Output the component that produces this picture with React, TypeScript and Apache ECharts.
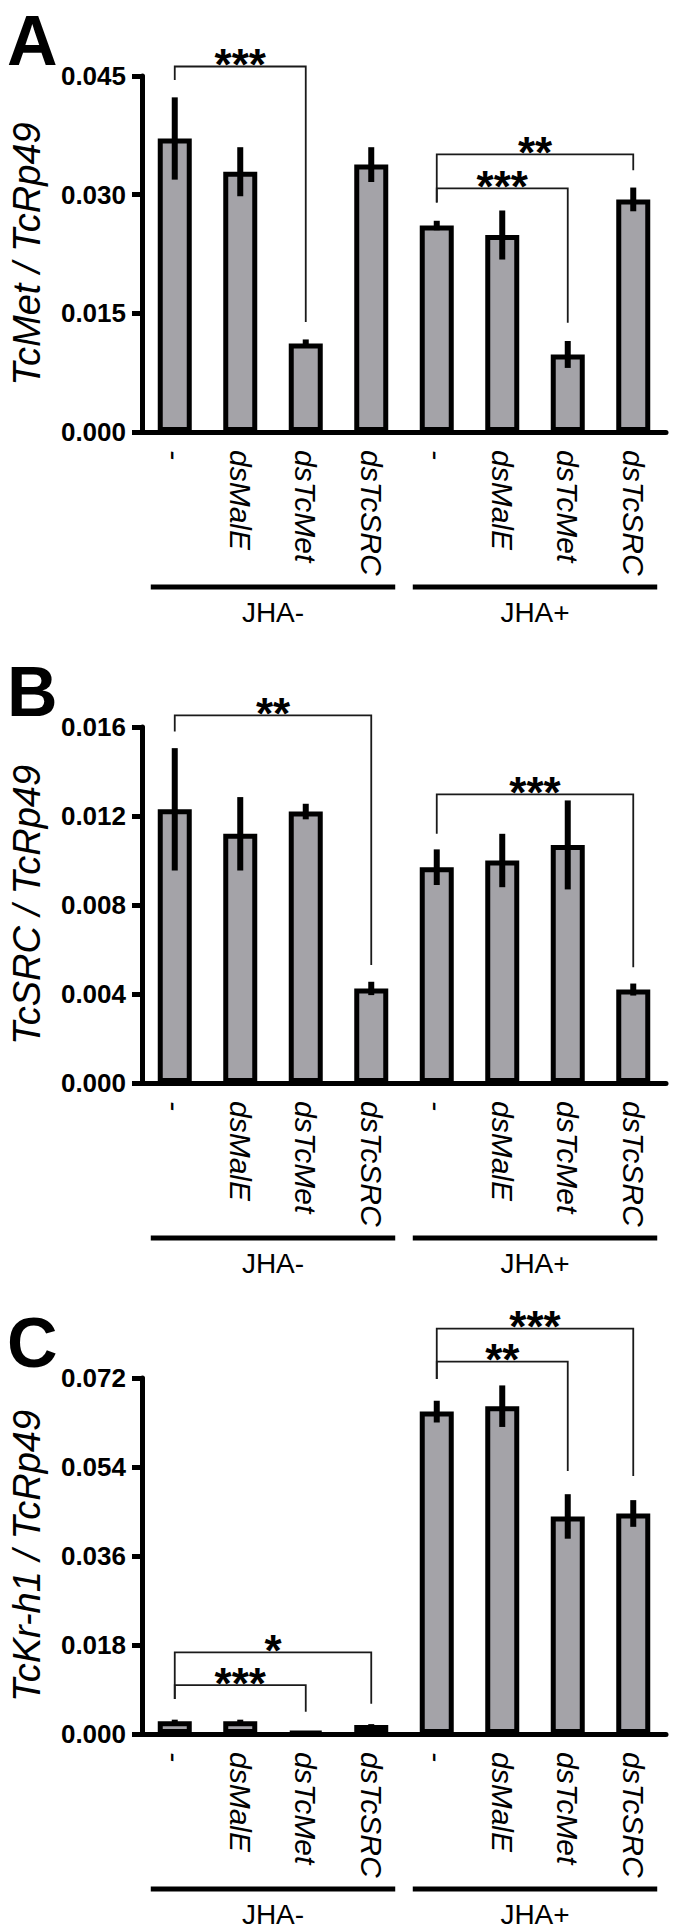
import React, { useEffect, useRef } from 'react';
import * as echarts from 'echarts';

// ---------- data ----------
const categories = ['-', 'dsMalE', 'dsTcMet', 'dsTcSRC', '-', 'dsMalE', 'dsTcMet', 'dsTcSRC'];
const groupLabels = ['JHA-', 'JHA+'];
const groupFrom = [0, 4];
const groupTo = [3, 7];
const panelLetters = ['A', 'B', 'C'];
const yTitles = ['TcMet / TcRp49', 'TcSRC / TcRp49', 'TcKr-h1 / TcRp49'];
const yMaxes = [0.045, 0.016, 0.072];
const yIntervals = [0.015, 0.004, 0.018];

const metMeans = [0.0371, 0.0329, 0.0112, 0.0338, 0.0261, 0.0249, 0.0098, 0.0294];
const metErrors = [0.0052, 0.0031, 0.0005, 0.0022, 0.0006, 0.0031, 0.0017, 0.0015];
const srcMeans = [0.0123, 0.0112, 0.0122, 0.00425, 0.0097, 0.0100, 0.0107, 0.0042];
const srcErrors = [0.00275, 0.00165, 0.00035, 0.0003, 0.0008, 0.0012, 0.0020, 0.00027];
const krMeans = [0.0026, 0.0026, 0.0004, 0.0018, 0.0652, 0.0663, 0.0440, 0.0446];
const krErrors = [0.0003, 0.0003, 0.0001, 0.0002, 0.0022, 0.0042, 0.0045, 0.0027];

// brackets: [fromIndex, toIndex, topValue, leftLegEnd, rightLegEnd]
const metBrackets = [
  [0, 2, 0.0462, 0.0445, 0.0139],
  [4, 7, 0.0351, 0.0290, 0.0331],
  [4, 6, 0.0308, 0.0290, 0.0138],
];
const metStars = ['***', '**', '***'];
const srcBrackets = [
  [0, 3, 0.01652, 0.0158, 0.0053],
  [4, 7, 0.01297, 0.0112, 0.0052],
];
const srcStars = ['**', '***'];
const krBrackets = [
  [4, 7, 0.0820, 0.0718, 0.0522],
  [4, 6, 0.0753, 0.0718, 0.0532],
  [0, 3, 0.0165, 0.0071, 0.0061],
  [0, 2, 0.0099, 0.0071, 0.0045],
];
const krStars = ['***', '**', '*', '***'];

const panelMeans = [metMeans, srcMeans, krMeans];
const panelErrors = [metErrors, srcErrors, krErrors];
const panelBrackets = [metBrackets, srcBrackets, krBrackets];
const panelStars = [metStars, srcStars, krStars];

// ---------- layout ----------
const W = 674;
const H = 1928;
const PANEL_STEP = 651;
const GRID_TOP = 76;
const GRID_H = 356;
const GRID_LEFT = 128;
const GRID_W = 538;
const FONT = '"Liberation Sans", Arial, Helvetica, sans-serif';
const BAR_FILL = '#a4a3a8';

function buildOption() {
  const grid: any[] = [];
  const xAxis: any[] = [];
  const yAxis: any[] = [];
  const series: any[] = [];
  const graphic: any[] = [];

  for (let p = 0; p < 3; p++) {
    const off = p * PANEL_STEP;
    grid.push({ left: GRID_LEFT, top: GRID_TOP + off, width: GRID_W, height: GRID_H, containLabel: false });
    xAxis.push({
      type: 'category',
      gridIndex: p,
      data: categories,
      axisLine: { lineStyle: { color: '#000', width: 5 } },
      axisTick: { show: false },
      axisLabel: {
        interval: 0,
        rotate: -90,
        margin: 18,
        color: '#000',
        fontFamily: FONT,
        fontStyle: 'italic',
        fontSize: 30,
      },
      splitLine: { show: false },
    });
    yAxis.push({
      type: 'value',
      gridIndex: p,
      min: 0,
      max: yMaxes[p],
      interval: yIntervals[p],
      name: yTitles[p],
      nameLocation: 'middle',
      nameRotate: 90,
      nameGap: 96,
      nameTextStyle: {
        color: '#000',
        fontFamily: FONT,
        fontStyle: 'italic',
        fontSize: 38,
      },
      axisLine: { show: true, lineStyle: { color: '#000', width: 5 } },
      axisTick: { show: true, length: 10, lineStyle: { color: '#000', width: 5 } },
      axisLabel: {
        margin: 16,
        color: '#000',
        fontFamily: FONT,
        fontWeight: 'bold',
        fontSize: 26,
        formatter: (v: number) => v.toFixed(3),
      },
      splitLine: { show: false },
    });

    const means = panelMeans[p];
    const errs = panelErrors[p];
    series.push({
      type: 'bar',
      xAxisIndex: p,
      yAxisIndex: p,
      data: means,
      barWidth: 34,
      itemStyle: { color: BAR_FILL, borderColor: '#000', borderWidth: 5 },
      z: 2,
    });
    series.push({
      type: 'custom',
      xAxisIndex: p,
      yAxisIndex: p,
      data: means.map((m, i) => [i, m, errs[i]]),
      z: 5,
      clip: false,
      renderItem: (params: any, api: any) => {
        const i = api.value(0);
        const m = api.value(1);
        const e = api.value(2);
        const a = api.coord([i, m + e]);
        const b = api.coord([i, m - e]);
        return {
          type: 'line',
          shape: { x1: a[0], y1: a[1], x2: b[0], y2: b[1] },
          style: { stroke: '#000', lineWidth: 6 },
        };
      },
    });
    const brackets = panelBrackets[p];
    const stars = panelStars[p];
    series.push({
      type: 'custom',
      xAxisIndex: p,
      yAxisIndex: p,
      data: brackets.map((b) => [b[0], b[1], b[2], b[3], b[4]]),
      z: 6,
      clip: false,
      renderItem: (params: any, api: any) => {
        const f = api.value(0);
        const t = api.value(1);
        const top = api.value(2);
        const lEnd = api.value(3);
        const rEnd = api.value(4);
        const pl = api.coord([f, top]);
        const pr = api.coord([t, top]);
        const ll = api.coord([f, lEnd]);
        const lr = api.coord([t, rEnd]);
        return {
          type: 'group',
          children: [
            {
              type: 'polyline',
              shape: { points: [[ll[0], ll[1]], [pl[0], pl[1]], [pr[0], pr[1]], [lr[0], lr[1]]] },
              style: { stroke: '#1a1a1a', lineWidth: 1.8, fill: null },
            },
            {
              type: 'text',
              x: (pl[0] + pr[0]) / 2,
              y: pl[1] - 2,
              style: {
                text: stars[params.dataIndex],
                fill: '#000',
                fontFamily: FONT,
                fontWeight: 'bold',
                fontSize: 44,
                align: 'center',
                verticalAlign: 'middle',
              },
            },
          ],
        };
      },
    });
    series.push({
      type: 'custom',
      xAxisIndex: p,
      yAxisIndex: p,
      data: groupFrom.map((g, i) => [g, groupTo[i]]),
      z: 6,
      clip: false,
      renderItem: (params: any, api: any) => {
        const a = api.coord([api.value(0), 0]);
        const b = api.coord([api.value(1), 0]);
        const band = api.size([1, 0])[0];
        const x1 = a[0] - band * 0.366;
        const x2 = b[0] + band * 0.366;
        const y = a[1] + 155;
        return {
          type: 'group',
          children: [
            {
              type: 'line',
              shape: { x1, y1: y, x2, y2: y },
              style: { stroke: '#000', lineWidth: 5 },
            },
            {
              type: 'text',
              x: (x1 + x2) / 2,
              y: y + 25,
              style: {
                text: groupLabels[params.dataIndex],
                fill: '#000',
                fontFamily: FONT,
                fontSize: 28,
                align: 'center',
                verticalAlign: 'middle',
              },
            },
          ],
        };
      },
    });

    graphic.push({
      type: 'text',
      x: 7,
      y: 41 + off,
      style: {
        text: panelLetters[p],
        fill: '#000',
        fontFamily: FONT,
        fontWeight: 'bold',
        fontSize: 70,
        align: 'left',
        verticalAlign: 'middle',
      },
    });
  }

  return {
    animation: false,
    backgroundColor: '#fff',
    grid,
    xAxis,
    yAxis,
    series,
    graphic,
  };
}

export default function App() {
  const ref = useRef<HTMLDivElement>(null);
  useEffect(() => {
    if (!ref.current) return;
    const chart = echarts.init(ref.current, undefined, { renderer: 'svg', width: W, height: H });
    chart.setOption(buildOption() as any);
    return () => chart.dispose();
  }, []);
  return (
    <div
      ref={ref}
      style={{ position: 'absolute', left: 0, top: 0, width: W, height: H, background: '#fff' }}
    />
  );
}
